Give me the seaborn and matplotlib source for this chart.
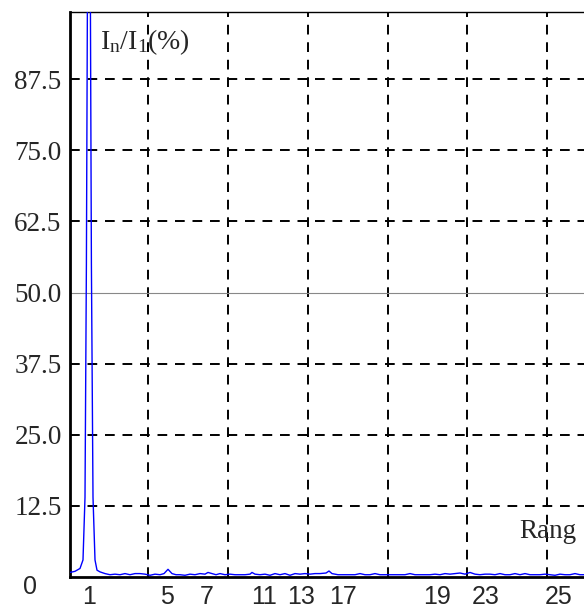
import matplotlib
matplotlib.use("Agg")
import matplotlib.pyplot as plt
import seaborn as sns
import pandas as pd

# Spectrum (x in axis units, y in % of fundamental)
harm_x = [0.0, 0.25, 0.5, 0.65, 0.75, 0.82, 0.87, 1.02, 1.07, 1.15, 1.25, 1.35,
          1.5, 1.75, 2.0, 2.25, 2.5, 2.75, 3.0, 3.25, 3.5, 3.75, 4.0, 4.25, 4.5,
          4.7, 4.9, 5.1, 5.3, 5.5, 5.75, 6.0, 6.25, 6.5, 6.75, 6.9, 7.1, 7.3,
          7.5, 7.75, 8.0, 8.25, 8.5, 8.75, 9.0, 9.1, 9.25, 9.5, 9.75, 10.0,
          10.25, 10.5, 10.75, 11.0, 11.25, 11.5, 11.75, 12.0, 12.25, 12.5,
          12.8, 12.95, 13.1, 13.4, 13.75, 14.0, 14.25, 14.5, 14.75, 15.0,
          15.25, 15.5, 15.75, 16.0, 16.25, 16.5, 16.75, 17.0, 17.25, 17.5,
          17.75, 18.0, 18.25, 18.5, 18.75, 19.0, 19.25, 19.5, 19.75, 20.0,
          20.25, 20.5, 20.75, 21.0, 21.25, 21.5, 21.75, 22.0, 22.25, 22.5,
          22.75, 23.0, 23.25, 23.5, 23.75, 24.0, 24.25, 24.5, 24.75, 25.0,
          25.25, 25.5, 25.7]
harm_y = [0.8, 1.0, 1.5, 3.0, 14.0, 55.0, 101.0, 101.0, 55.0, 14.0, 3.0, 1.2,
          0.9, 0.6, 0.4, 0.5, 0.4, 0.6, 0.4, 0.6, 0.6, 0.5, 0.3, 0.5, 0.4,
          0.6, 1.35, 0.6, 0.4, 0.4, 0.3, 0.5, 0.4, 0.6, 0.5, 0.8, 0.6, 0.4,
          0.6, 0.4, 0.5, 0.4, 0.4, 0.4, 0.5, 0.8, 0.5, 0.4, 0.5, 0.3, 0.6,
          0.4, 0.6, 0.3, 0.6, 0.5, 0.6, 0.5, 0.6, 0.6, 0.7, 1.05, 0.6, 0.4,
          0.4, 0.4, 0.4, 0.6, 0.4, 0.4, 0.6, 0.4, 0.4, 0.4, 0.4, 0.4, 0.4,
          0.6, 0.4, 0.4, 0.4, 0.4, 0.5, 0.4, 0.6, 0.5, 0.6, 0.7, 0.5, 0.8,
          0.5, 0.4, 0.5, 0.5, 0.4, 0.6, 0.4, 0.4, 0.6, 0.4, 0.6, 0.4, 0.4,
          0.4, 0.5, 0.4, 0.3, 0.5, 0.4, 0.4, 0.6, 0.4, 0.4]

y_ticks = [12.5, 25.0, 37.5, 50.0, 62.5, 75.0, 87.5]
y_tick_labels = ["12.5", "25.0", "37.5", "50.0", "62.5", "75.0", "87.5"]
x_tick_pos = [0.95, 4.85, 6.85, 9.7, 11.55, 13.65, 18.35, 20.8, 24.45]
x_tick_labels = ["1", "5", "7", "11", "13", "17", "19", "23", "25"]
x_grid = [3.9, 7.9, 11.9, 15.9, 19.85, 23.85]
y_grid = [12.5, 25.0, 37.5, 62.5, 75.0, 87.5]

sns.set_style("white")
plt.rcParams["mathtext.fontset"] = "stix"

df = pd.DataFrame({"x": harm_x, "y": harm_y})

fig = plt.figure(figsize=(5.84, 6.13), dpi=100)
ax = fig.add_axes([70 / 584, 36 / 613, 514 / 584, 565 / 613])

for gx in x_grid:
    ax.axvline(gx, color="black", lw=1.4, ls=(0, (5, 4)), zorder=1)
for gy in y_grid:
    ax.axhline(gy, color="black", lw=1.4, ls=(0, (5, 4)), zorder=1)
ax.axhline(50.0, color="#888888", lw=0.8, zorder=1)

sns.lineplot(data=df, x="x", y="y", ax=ax, color="#0000ff", lw=1.0,
             zorder=3, sort=False)

ax.set_xlim(0, 25.7)
ax.set_ylim(0, 99.3)
ax.set_xlabel("")
ax.set_ylabel("")

ax.set_yticks(y_ticks)
ax.set_yticklabels(y_tick_labels, fontfamily="Liberation Serif", fontsize=19.5)
ax.set_xticks(x_tick_pos)
ax.set_xticklabels(x_tick_labels, fontfamily="Liberation Sans", fontsize=18)
ax.tick_params(axis="y", length=0, pad=6)
ax.tick_params(axis="x", length=0, pad=6)

for s in ["left", "bottom"]:
    ax.spines[s].set_linewidth(2.0)
    ax.spines[s].set_color("black")
ax.spines["top"].set_linewidth(1.0)
ax.spines["top"].set_color("black")
ax.spines["right"].set_visible(False)

fig.text(30 / 584, 1 - 587 / 613, "0", ha="center", va="center",
         fontfamily="Liberation Sans", fontsize=18)
ax.text(1.5, 94.0, r"$\mathregular{I_n/I_1(\%)}$", ha="left", va="center",
        fontsize=20, fontfamily="Liberation Serif", zorder=4)
ax.text(25.3, 8.0, "Rang", ha="right", va="center",
        fontfamily="Liberation Serif", fontsize=19.5, zorder=4)

fig.savefig("out.png", dpi=100)
